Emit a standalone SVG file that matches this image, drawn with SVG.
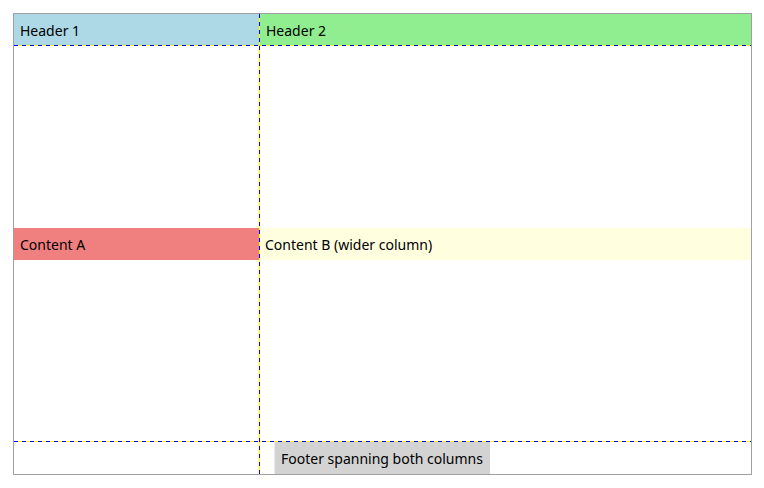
<svg xmlns="http://www.w3.org/2000/svg" width="764" height="488" viewBox="0 0 764 488">
<style>
text{font-family:"Noto Sans","Open Sans","DejaVu Sans",sans-serif;font-size:14px;fill:#000}
</style>
<rect x="0" y="0" width="764" height="488" fill="#fff"/>
<g id="header1"><rect x="14" y="14" width="245.5" height="31.5" fill="#ADD8E6"/><text x="20" y="36">Header 1</text></g>
<g id="header2"><rect x="259.5" y="14" width="491.5" height="31.5" fill="#90EE90"/><text x="266" y="36">Header 2</text></g>
<g id="contentA"><rect x="14" y="228" width="245.5" height="32" fill="#F08080"/><text x="20" y="250">Content A</text></g>
<g id="contentB"><rect x="259.5" y="228" width="491.5" height="32" fill="#FFFFE0"/><text x="265" y="250">Content B (wider column)</text></g>
<g id="footer"><rect x="274.5" y="441.5" width="215.5" height="32.5" fill="#D3D3D3"/><text x="281" y="464">Footer spanning both columns</text></g>
<g id="gridlines" fill="none" stroke-width="1">
<path d="M259.5 14V474M14 45.5H751M14 441.5H751" stroke="#FFFF00"/>
<path d="M259.5 14V474M14 45.5H751M14 441.5H751" stroke="#0000FF" stroke-dasharray="4 4"/>
</g>
<rect x="13.5" y="13.5" width="738" height="461" fill="none" stroke="#A0A0A0" stroke-width="1"/>
</svg>
